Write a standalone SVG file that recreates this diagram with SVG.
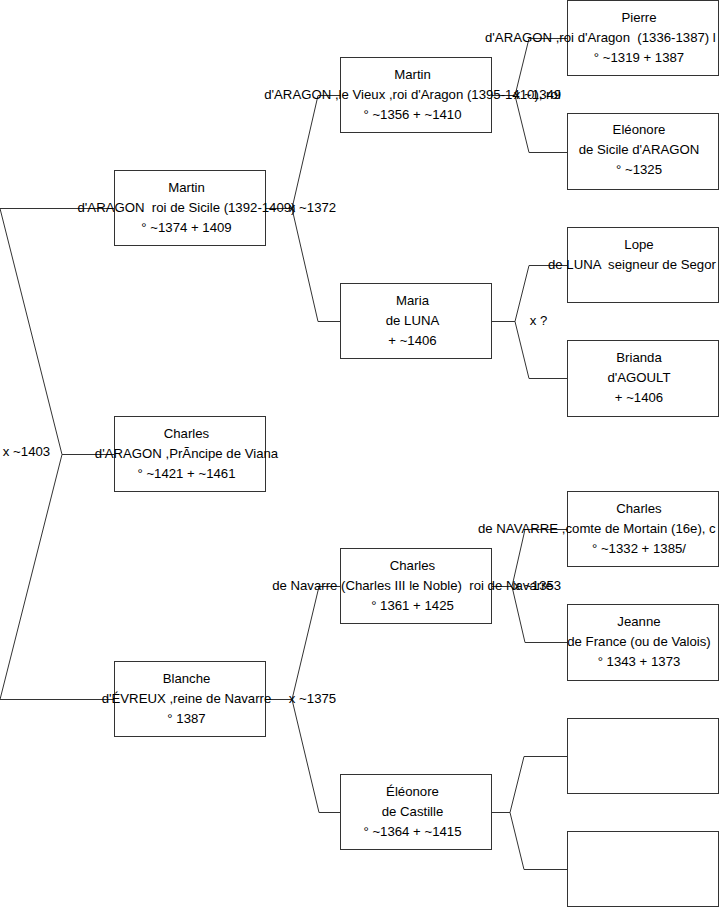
<svg xmlns="http://www.w3.org/2000/svg" width="719" height="908" viewBox="0 0 719 908">
<style>
.box{fill:#fff;stroke:#333;stroke-width:1}
.c{fill:none;stroke:#333;stroke-width:1}
text{font-family:"Liberation Sans",Arial,sans-serif;font-size:13.2px;fill:#000;white-space:pre}
.m{text-anchor:middle}
.s{text-anchor:start}
</style>
<rect width="719" height="908" fill="#fff"/>
<g id="connectors">
<path class="c" d="M0,208.5 H114 M0,208.5 L62,454.5 L0,699.5 H114 M62,454.5 H114"/>
<path class="c" d="M265,208.5 H292 L318,95.5 H340 M292,208.5 L318,321.5 H340"/>
<path class="c" d="M265,699.5 H292 L319,586.5 H340 M292,699.5 L319,812.5 H340"/>
<path class="c" d="M491,95.5 H515 L529,38.5 H567 M515,95.5 L529,152.5 H567"/>
<path class="c" d="M491,321.5 H515 L529,265.5 H567 M515,321.5 L529,378.5 H567"/>
<path class="c" d="M491,586.5 H512 L525,529.5 H567 M512,586.5 L525,642.5 H567"/>
<path class="c" d="M491,812.5 H510 L524,756.5 H567 M510,812.5 L524,869.5 H567"/>
<text class="m" x="26.5" y="456">x ~1403</text>
<text class="m" x="312.5" y="212">x ~1372</text>
<text class="m" x="312.5" y="703">x ~1375</text>
<text class="m" x="537.5" y="99">x ~1349</text>
<text class="m" x="538.5" y="325">x ?</text>
<text class="m" x="537.5" y="590">x ~1353</text>
</g>
<g id="martin1">
<rect class="box" x="114.5" y="170.5" width="151" height="75"/>
<text class="m" x="186.5" y="191.5">Martin</text>
<text class="m" x="186.5" y="211.5" xml:space="preserve">d'ARAGON  roi de Sicile (1392-1409)</text>
<text class="m" x="186.5" y="231.5">° ~1374 + 1409</text>
</g>
<g id="charles1">
<rect class="box" x="114.5" y="416.5" width="151" height="75"/>
<text class="m" x="186.5" y="437.5">Charles</text>
<text class="m" x="186.5" y="457.5">d'ARAGON ,PrÃncipe de Viana</text>
<text class="m" x="186.5" y="477.5">° ~1421 + ~1461</text>
</g>
<g id="blanche1">
<rect class="box" x="114.5" y="661.5" width="151" height="75"/>
<text class="m" x="186.5" y="682.5">Blanche</text>
<text class="m" x="186.5" y="702.5">d'ÉVREUX ,reine de Navarre</text>
<text class="m" x="186.5" y="722.5">° 1387</text>
</g>
<g id="martin2">
<rect class="box" x="340.5" y="57.5" width="151" height="75"/>
<text class="m" x="412.5" y="78.5">Martin</text>
<text class="m" x="412.5" y="98.5">d'ARAGON ,le Vieux ,roi d'Aragon (1395-1410), roi</text>
<text class="m" x="412.5" y="118.5">° ~1356 + ~1410</text>
</g>
<g id="maria2">
<rect class="box" x="340.5" y="283.5" width="151" height="75"/>
<text class="m" x="412.5" y="304.5">Maria</text>
<text class="m" x="412.5" y="324.5">de LUNA</text>
<text class="m" x="412.5" y="344.5">+ ~1406</text>
</g>
<g id="charles2">
<rect class="box" x="340.5" y="548.5" width="151" height="75"/>
<text class="m" x="412.5" y="569.5">Charles</text>
<text class="m" x="412.5" y="589.5" xml:space="preserve">de Navarre (Charles III le Noble)  roi de Navarre</text>
<text class="m" x="412.5" y="609.5">° 1361 + 1425</text>
</g>
<g id="eleonore2">
<rect class="box" x="340.5" y="774.5" width="151" height="75"/>
<text class="m" x="412.5" y="795.5">Éléonore</text>
<text class="m" x="412.5" y="815.5">de Castille</text>
<text class="m" x="412.5" y="835.5">° ~1364 + ~1415</text>
</g>
<g id="pierre3">
<rect class="box" x="567.5" y="0.5" width="151" height="75"/>
<text class="m" x="639" y="21.5">Pierre</text>
<text class="s" x="485" y="41.5" xml:space="preserve">d'ARAGON ,roi d'Aragon  (1336-1387) l</text>
<text class="m" x="639" y="61.5">° ~1319 + 1387</text>
</g>
<g id="eleonore3">
<rect class="box" x="567.5" y="113.5" width="151" height="76"/>
<text class="m" x="639" y="134">Eléonore</text>
<text class="m" x="639" y="154">de Sicile d'ARAGON</text>
<text class="m" x="639" y="174">° ~1325</text>
</g>
<g id="lope3">
<rect class="box" x="567.5" y="227.5" width="151" height="75"/>
<text class="m" x="639" y="248.5">Lope</text>
<text class="s" x="548" y="268.5" xml:space="preserve">de LUNA  seigneur de Segor</text>
</g>
<g id="brianda3">
<rect class="box" x="567.5" y="340.5" width="151" height="76"/>
<text class="m" x="639" y="361.5">Brianda</text>
<text class="m" x="639" y="381.5">d'AGOULT</text>
<text class="m" x="639" y="401.5">+ ~1406</text>
</g>
<g id="charles3">
<rect class="box" x="567.5" y="491.5" width="151" height="75"/>
<text class="m" x="639" y="512.5">Charles</text>
<text class="s" x="478" y="532.5">de NAVARRE ,comte de Mortain (16e), c</text>
<text class="m" x="639" y="552.5">° ~1332 + 1385/</text>
</g>
<g id="jeanne3">
<rect class="box" x="567.5" y="604.5" width="151" height="76"/>
<text class="m" x="639" y="625.5">Jeanne</text>
<text class="m" x="639" y="645.5">de France (ou de Valois)</text>
<text class="m" x="639" y="665.5">° 1343 + 1373</text>
</g>
<g id="empty3a">
<rect class="box" x="567.5" y="718.5" width="151" height="75"/>
</g>
<g id="empty3b">
<rect class="box" x="567.5" y="831.5" width="151" height="75"/>
</g>
</svg>
